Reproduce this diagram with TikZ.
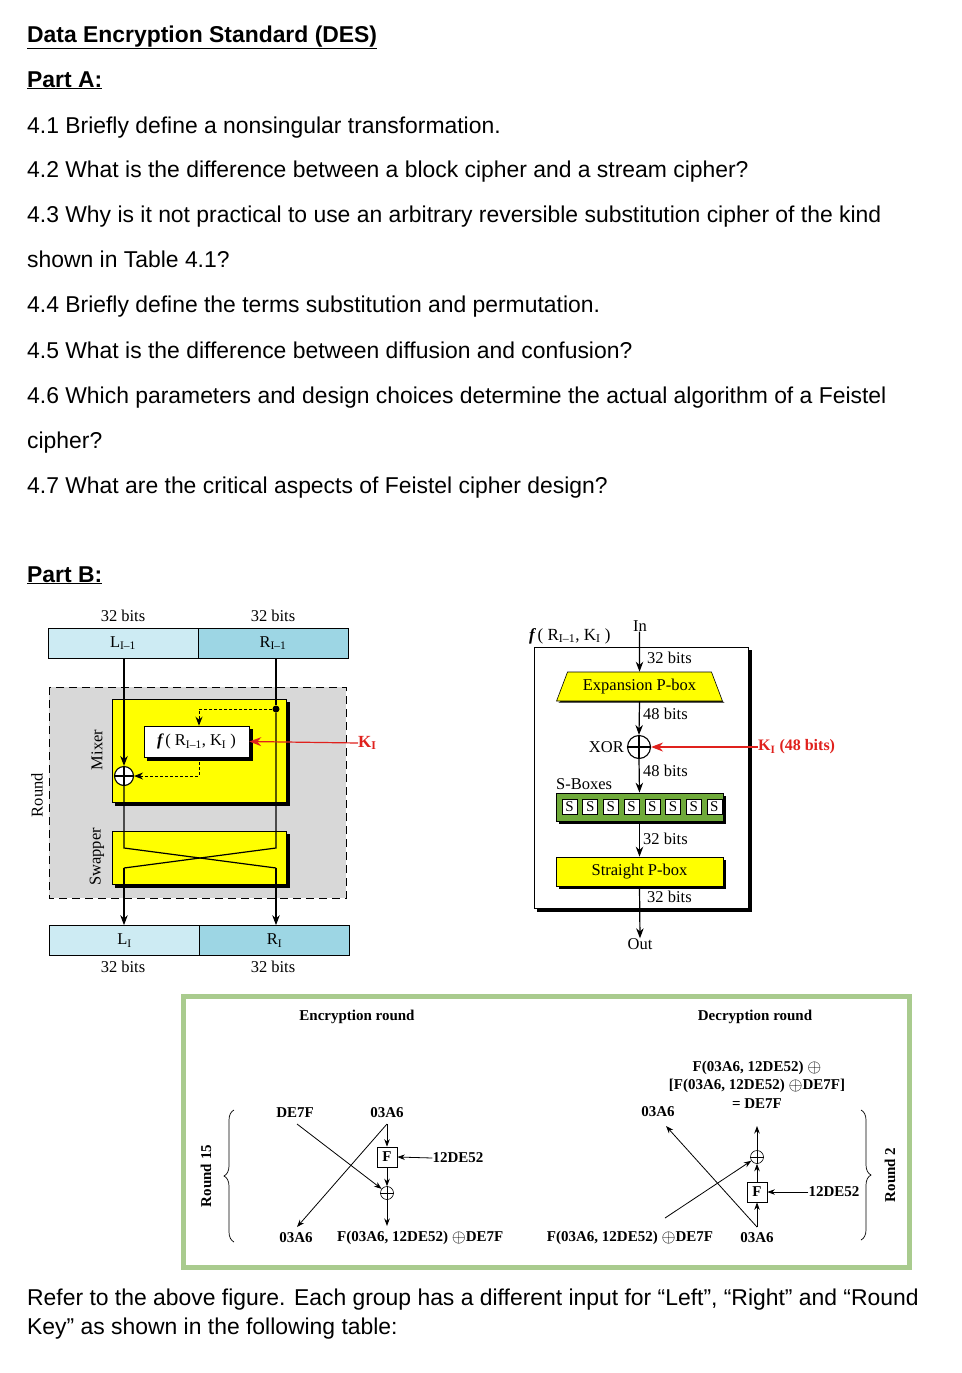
\documentclass[tikz,border=0pt]{standalone}
\usepackage{fontspec}
\setmainfont{Liberation Serif}
\newfontfamily\arialf{Liberation Sans}
\usetikzlibrary{arrows.meta,decorations.pathreplacing,calc,shapes.geometric}
\definecolor{lblue}{HTML}{CDEBF3}
\definecolor{dblue}{HTML}{9DD6E4}
\definecolor{grayreg}{HTML}{D8D8D8}
\definecolor{yel}{HTML}{FFFF00}
\definecolor{sgreen}{HTML}{6FAA3A}
\definecolor{kred}{HTML}{E0211D}
\definecolor{bgreen}{HTML}{A9CB8E}
\newcommand{\bop}{\raisebox{-0.8pt}{\scalebox{1.25}{$\oplus$}}}
\begin{document}
\begin{tikzpicture}[x=1pt,y=-1pt,
  qtext/.style={anchor=base west, inner sep=0pt, font=\arialf\fontsize{22.9}{26}\selectfont},
  dtxt/.style={inner sep=0pt, font=\fontsize{16.5}{18}\selectfont},
  btxt/.style={inner sep=0pt, font=\bfseries\fontsize{15}{17}\selectfont},
  arr/.style={-{Stealth[length=10pt,width=7.5pt]}, line width=1.2pt},
  darr/.style={-{Stealth[length=9pt,width=7pt]}, line width=1pt, dash pattern=on 3pt off 2pt},
  sarr/.style={-{Stealth[length=7.5pt,width=5.5pt]}, line width=0.8pt},
  halfbox/.style={draw, line width=0.7pt, minimum width=150pt, minimum height=30pt, inner sep=0pt, font=\fontsize{16.5}{18}\selectfont},
  xorc/.style={circle, draw, fill=white, inner sep=0pt, line width=1.1pt},
  shadow/.style={fill=black},
  redarr/.style={-{Stealth[length=12pt,width=9pt]}, line width=1.2pt, kred},
]
\useasboundingbox (0,0) rectangle (961,1373);
\fill[white] (0,0) rectangle (961,1373);

% ---------------- text ----------------
\node[qtext] (t0) at (27,42) {\bfseries\underline{Data Encryption Standard (DES)}};
\node[qtext] (t1) at (27,87) {\bfseries\underline{Part A:}};
\node[qtext] (q1) at (27,133) {4.1 Briefly define a nonsingular transformation.};
\node[qtext] (q2) at (27,177) {4.2 What is the difference between a block cipher and a stream cipher?};
\node[qtext] (q3) at (27,222) {4.3 Why is it not practical to use an arbitrary reversible substitution cipher of the kind};
\node[qtext] (q3b) at (27,267) {shown in Table 4.1?};
\node[qtext] (q4) at (27,312) {4.4 Briefly define the terms substitution and permutation.};
\node[qtext] (q5) at (27,358) {4.5 What is the difference between diffusion and confusion?};
\node[qtext] (q6) at (27,403) {4.6 Which parameters and design choices determine the actual algorithm of a Feistel};
\node[qtext] (q6b) at (27,448) {cipher?};
\node[qtext] (q7) at (27,493) {4.7 What are the critical aspects of Feistel cipher design?};
\node[qtext] (pb) at (27,582) {\bfseries\underline{Part B:}};
\node[qtext] (r1) at (27,1305) {Refer to the above figure. Each group has a different input for “Left”, “Right” and “Round};
\node[qtext] (r2) at (27,1334) {Key” as shown in the following table:};

% ---------------- left: DES round ----------------
\node[dtxt] (b1) at (123,616) {32 bits};
\node[dtxt] (b2) at (273,616) {32 bits};
\node[halfbox, fill=lblue] (Lp) at (123,643) {L\textsubscript{I–1}};
\node[halfbox, fill=dblue] (Rp) at (273,643) {R\textsubscript{I–1}};

\filldraw[fill=grayreg, draw=black, line width=0.8pt, dash pattern=on 8pt off 5pt] (49,687) rectangle (346,898);
\fill[shadow] (115,702) rectangle (290,806);
\filldraw[fill=yel, draw=black, line width=0.5pt] (112,699) rectangle (286,802);
\fill[shadow] (115,834) rectangle (290,888);
\filldraw[fill=yel, draw=black, line width=0.5pt] (112,831) rectangle (286,884);
\fill[shadow] (147,729) rectangle (253,761);
\node[draw, fill=white, line width=0.6pt, minimum width=105pt, minimum height=31pt, inner sep=0pt, font=\fontsize{16.5}{18}\selectfont] (fb) at (196.5,741.5) {{\bfseries\itshape f}\,( R\textsubscript{I–1}, K\textsubscript{I} )};

\node[dtxt, rotate=90] (lround) at (37,795) {Round};
\node[dtxt, rotate=90] (lmix) at (97,750) {Mixer};
\node[dtxt, rotate=90] (lswap) at (97,857) {Swapper};

\node[xorc, minimum size=19pt] (x1) at (124,776) {};
\draw[line width=1.1pt] (x1.north) -- (x1.south) (x1.west) -- (x1.east);
\node[circle, fill=black, inner sep=0pt, minimum size=7pt] (dot) at (276,709) {};

\node[halfbox, fill=lblue] (Ln) at (124.5,940.5) {L\textsubscript{I}};
\node[halfbox, fill=dblue] (Rn) at (274.5,940.5) {R\textsubscript{I}};
\node[dtxt] (b3) at (123,967) {32 bits};
\node[dtxt] (b4) at (273,967) {32 bits};

\coordinate (sl1) at (124,848);
\coordinate (sl2) at (124,868);
\coordinate (sr1) at (276,848);
\coordinate (sr2) at (276,868);

\draw[arr] (Lp.south -| x1) -- (x1.north);
\draw[line width=1.2pt] (Rp.south -| dot) -- (dot);
\draw[line width=1.2pt] (dot) -- (sr1) -- (sl2);
\draw[arr] (sl2) -- (sl2 |- Ln.north);
\draw[line width=1.2pt] (x1.south) -- (sl1) -- (sr2);
\draw[arr] (sr2) -- (sr2 |- Rn.north);
\draw[darr] (dot) -| ([xshift=2.5pt]fb.north);
\draw[darr] ([xshift=2.5pt]fb.south) |- (x1.east);

\node[font=\bfseries\fontsize{17}{18}\selectfont, text=kred, inner sep=0pt, anchor=west] (Ki) at (358,743) {K\textsubscript{I}};
\draw[redarr] (Ki.west) -- (fb.east);

% ---------------- right: f function ----------------
\fill[shadow] (537,650) rectangle (752,912);
\filldraw[fill=white, draw=black, line width=0.7pt] (534,647) rectangle (748,908);
\node[dtxt, anchor=west, font=\fontsize{17}{18}\selectfont] (ftitle) at (529,636) {{\bfseries\itshape f}\,( R\textsubscript{I–1}, K\textsubscript{I} )};
\node[dtxt] (In) at (640,626) {In};

\node[trapezium, trapezium angle=60, trapezium stretches=true, fill=black, minimum width=166pt, minimum height=29pt] at (641.5,688) {};
\node[trapezium, trapezium angle=60, trapezium stretches=true, draw, line width=0.6pt, fill=yel, minimum width=166pt, minimum height=29pt, inner sep=0pt, font=\fontsize{16.5}{18}\selectfont] (exp) at (639.5,686.5) {Expansion P-box};

\node[xorc, minimum size=23pt] (x2) at (639,747) {};
\draw[line width=1.1pt] (x2.north) -- (x2.south) (x2.west) -- (x2.east);
\node[dtxt, anchor=east] (xorl) at (624,747) {XOR};

\fill[shadow] (559,796) rectangle (726,824);
\node[draw, line width=0.7pt, fill=sgreen, minimum width=167pt, minimum height=28pt, inner sep=0pt] (sb) at (639.5,807) {};
\foreach \i in {0,...,7} {
  \node[draw, line width=0.5pt, fill=white, minimum width=15pt, minimum height=15pt, inner sep=0pt, font=\fontsize{15}{16}\selectfont] (s\i) at (569.5+20.7*\i,807) {S};
}
\node[dtxt, anchor=west] (sbl) at (556,784) {S-Boxes};

\fill[shadow] (559,860) rectangle (726,889);
\node[draw, line width=0.7pt, fill=yel, minimum width=167pt, minimum height=29pt, inner sep=0pt, font=\fontsize{16.5}{18}\selectfont] (sp) at (639.5,871.5) {Straight P-box};
\node[dtxt] (Out) at (640,944) {Out};

\draw[arr] (In.south -| exp) -- (exp.north);
\draw[arr] (exp.south) -- (x2.north);
\draw[arr] (x2.south) -- (sb.north);
\draw[arr] (sb.south) -- (sp.north);
\draw[arr] (sp.south) -- (Out.north);
\node[dtxt, anchor=west] (l32a) at (647,658) {32 bits};
\node[dtxt, anchor=west] (l48a) at (643,714) {48 bits};
\node[dtxt, anchor=west] (l48b) at (643,771) {48 bits};
\node[dtxt, anchor=west] (l32b) at (643,839) {32 bits};
\node[dtxt, anchor=west] (l32c) at (647,897) {32 bits};

\node[font=\bfseries\fontsize{16}{18}\selectfont, text=kred, inner sep=0pt, anchor=west] (Ki2) at (758,747) {K\textsubscript{I} (48 bits)};
\draw[redarr] (Ki2.west) -- (x2.east);

% ---------------- bottom: encryption/decryption ----------------
\draw[bgreen, line width=5pt] (183.5,996.5) rectangle (909.5,1267.5);
\node[btxt] (enc) at (357,1017) {Encryption round};
\node[btxt] (dec) at (755,1017) {Decryption round};

% encryption
\node[btxt] (eDE) at (295,1113) {DE7F};
\node[btxt] (eA6) at (387,1113) {03A6};
\coordinate (ea) at (387,1124);
\coordinate (eb) at (297,1124);
\node[draw, line width=0.7pt, minimum size=20pt, inner sep=0pt, font=\bfseries\fontsize{15}{16}\selectfont] (eF) at (387,1157) {F};
\node[btxt] (eK) at (458,1158) {12DE52};
\node[circle, draw, line width=0.6pt, minimum size=13pt, inner sep=0pt] (ex) at (387,1193) {};
\draw[line width=0.6pt] (ex.north) -- (ex.south) (ex.west) -- (ex.east);
\coordinate (ec) at (297,1227);
\coordinate (ed) at (387,1226);
\node[btxt] (eo1) at (296,1238) {03A6};
\node[btxt, anchor=west] (eo2) at (337,1238) {F(03A6, 12DE52) \bop DE7F};
\draw[sarr] (ea) -- (eF.north);
\draw[sarr] (ea) -- (ec);
\draw[sarr] (eK.west) -- (eF.east);
\draw[sarr] (eF.south) -- (ex.north);
\draw[sarr] (eb) -- (ex);
\draw[sarr] (ex.south) -- (ed);

% decryption
\node[btxt] (dres1) at (757,1068) {F(03A6, 12DE52) \bop};
\node[btxt] (dres2) at (757,1086) {[F(03A6, 12DE52) \bop DE7F]};
\node[btxt] (dres3) at (757,1104) {= DE7F};
\node[btxt] (dA6t) at (658,1112) {03A6};
\coordinate (da) at (757,1227);
\coordinate (db) at (665,1218);
\coordinate (dc) at (666,1126);
\coordinate (dd) at (757,1126);
\node[draw, line width=0.7pt, minimum size=20pt, inner sep=0pt, font=\bfseries\fontsize{15}{16}\selectfont] (dF) at (757,1192) {F};
\node[btxt] (dK) at (834,1192) {12DE52};
\node[circle, draw, line width=0.6pt, minimum size=13pt, inner sep=0pt] (dx) at (757,1157) {};
\draw[line width=0.6pt] (dx.north) -- (dx.south) (dx.west) -- (dx.east);
\node[btxt] (do1) at (757,1238) {03A6};
\node[btxt] (do2) at (630,1238) {F(03A6, 12DE52) \bop DE7F};
\draw[sarr] (da) -- (dF.south);
\draw[sarr] (dF.north) -- (dx.south);
\draw[sarr] (dx.north) -- (dd);
\draw[sarr] (da) -- (dc);
\draw[sarr] (db) -- (dx);
\draw[sarr] (dK.west) -- (dF.east);

% braces and round labels
\draw[line width=0.7pt, decorate, decoration={brace, amplitude=10pt}] (234,1242) -- (234,1110);
\draw[line width=0.7pt, decorate, decoration={brace, amplitude=10pt}] (861,1110) -- (861,1240);
\node[btxt, rotate=90] (r15) at (206,1176) {Round 15};
\node[btxt, rotate=90] (r2l) at (890,1175) {Round 2};
\end{tikzpicture}
\end{document}
